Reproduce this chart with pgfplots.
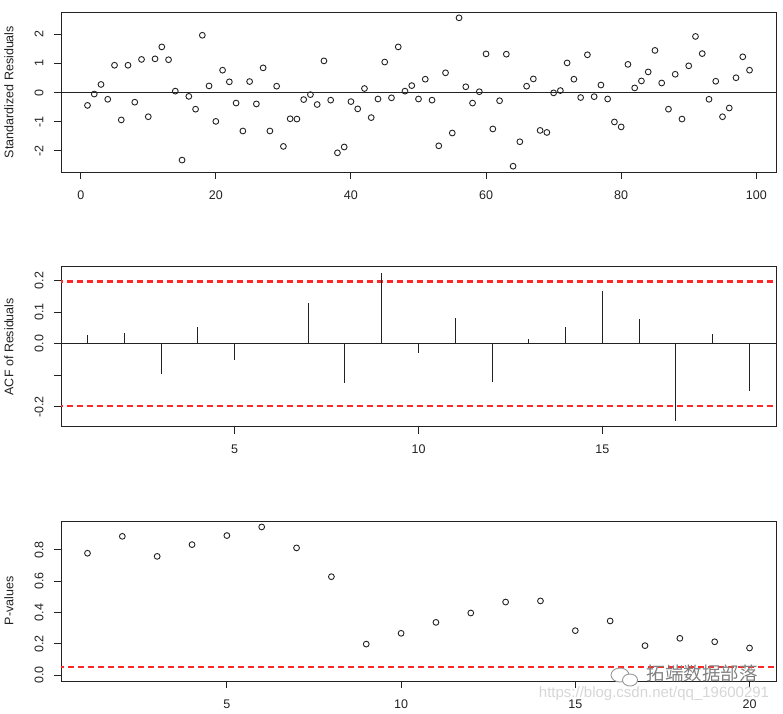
\documentclass[border=0pt]{standalone}
\usepackage{pgfplots}
\pgfplotsset{compat=1.18}
\usepackage{fontspec}
\setmainfont{Liberation Sans}
\newfontfamily\cjk{Noto Sans CJK SC}
\definecolor{rblack}{HTML}{222222}
\definecolor{rred}{RGB}{255,40,40}
\pgfplotsset{
  rstyle/.style={
    scale only axis, width=715pt, height=160pt,
    axis line style={line width=1pt, rblack},
    tick align=outside, major tick length=7pt,
    tick style={line width=1pt, rblack},
    xtick pos=bottom, ytick pos=left,
    ticklabel style={font=\fontsize{12.5}{15}\selectfont, text=rblack},
    yticklabel style={rotate=90, anchor=south},
    yticklabel shift=7pt, xticklabel shift=8pt,
    label style={font=\fontsize{12.5}{15}\selectfont, text=rblack},
    ylabel style={at={(axis description cs:-0.073,0.5)}, anchor=center},
    clip=true,
  },
  rmark/.style={only marks, mark=o, mark size=2.9pt, mark options={line width=0.9pt, draw=rblack}},
  rdash/.style={draw=rred, solid, line width=2.2pt, dash pattern=on 6pt off 4pt},
}
\begin{document}
\begin{tikzpicture}
\useasboundingbox (0pt,0pt) rectangle (783pt,-713pt);
% ---------- Panel 1: standardized residuals
\begin{axis}[rstyle, at={(61pt,-172pt)}, anchor=south west,
  xmin=-2.92, xmax=102.92, ymin=-2.73, ymax=2.77,
  xtick={0,20,40,60,80,100}, xticklabels={0,20,40,60,80,100},
  ytick={-2,-1,0,1,2}, yticklabels={-2,-1,0,1,2},
  ylabel={Standardized Residuals}]
\addplot[draw=rblack, line width=1pt] coordinates {(-10,0) (110,0)};
\addplot[rmark] table {
x y
1 -0.44
2 -0.05
3 0.28
4 -0.23
5 0.94
6 -0.94
7 0.94
8 -0.33
9 1.14
10 -0.83
11 1.16
12 1.57
13 1.13
14 0.05
15 -2.32
16 -0.13
17 -0.57
18 1.97
19 0.23
20 -0.99
21 0.77
22 0.37
23 -0.36
24 -1.32
25 0.38
26 -0.39
27 0.85
28 -1.32
29 0.22
30 -1.85
31 -0.90
32 -0.91
33 -0.24
34 -0.07
35 -0.41
36 1.09
37 -0.26
38 -2.07
39 -1.87
40 -0.31
41 -0.56
42 0.14
43 -0.86
44 -0.22
45 1.05
46 -0.18
47 1.57
48 0.05
49 0.24
50 -0.22
51 0.46
52 -0.26
53 -1.83
54 0.68
55 -1.39
56 2.57
57 0.20
58 -0.36
59 0.03
60 1.33
61 -1.25
62 -0.28
63 1.32
64 -2.53
65 -1.69
66 0.22
67 0.47
68 -1.30
69 -1.37
70 -0.01
71 0.07
72 1.02
73 0.46
74 -0.17
75 1.30
76 -0.14
77 0.26
78 -0.22
79 -1.01
80 -1.18
81 0.97
82 0.16
83 0.40
84 0.71
85 1.45
86 0.33
87 -0.57
88 0.63
89 -0.91
90 0.92
91 1.93
92 1.34
93 -0.23
94 0.39
95 -0.83
96 -0.53
97 0.51
98 1.23
99 0.77
};
\end{axis}
% ---------- Panel 2: ACF of residuals
\begin{axis}[rstyle, at={(61pt,-426.7pt)}, anchor=south west,
  xmin=0.28, xmax=19.72, ymin=-0.263, ymax=0.244,
  xtick={5,10,15}, xticklabels={5,10,15},
  ytick={-0.2,-0.1,0,0.1,0.2}, yticklabels={-0.2,,0.0,0.1,0.2},
  ylabel={ACF of Residuals}]
\addplot[draw=rblack, line width=1pt] coordinates {(-5,0) (25,0)};
\addplot[rdash] coordinates {(-5,0.197) (25,0.197)};
\addplot[rdash] coordinates {(-5,-0.197) (25,-0.197)};
\addplot[ycomb, draw=rblack, line width=1pt] table {
x y
1 0.029
2 0.033
3 -0.095
4 0.052
5 -0.053
6 0.002
7 0.129
8 -0.126
9 0.225
10 -0.028
11 0.083
12 -0.121
13 0.014
14 0.052
15 0.167
16 0.079
17 -0.244
18 0.032
19 -0.151
};
\end{axis}
% ---------- Panel 3: p-values
\begin{axis}[rstyle, at={(61pt,-681pt)}, anchor=south west,
  xmin=0.24, xmax=20.76, ymin=-0.038, ymax=0.985,
  xtick={5,10,15,20}, xticklabels={5,10,15,20},
  ytick={0,0.2,0.4,0.6,0.8}, yticklabels={0.0,0.2,0.4,0.6,0.8},
  ylabel={P-values}]
\addplot[rdash, line width=1.8pt] coordinates {(-5,0.05) (25,0.05)};
\addplot[rmark] table {
x y
1 0.779
2 0.887
3 0.759
4 0.834
5 0.892
6 0.947
7 0.813
8 0.629
9 0.198
10 0.267
11 0.337
12 0.397
13 0.467
14 0.474
15 0.284
16 0.346
17 0.188
18 0.235
19 0.213
20 0.173
};
\end{axis}
% watermark
\node[text=black!16, font=\fontsize{15}{18}\selectfont, inner sep=0pt] at (654pt,-694pt) {https://blog.csdn.net/qq\_19600291};
\draw[black!40, line width=0.9pt, fill=white] (620pt,-675pt) ellipse (9pt and 7pt);
\draw[black!40, line width=0.9pt, fill=white] (630pt,-680pt) ellipse (7.5pt and 6pt);
\node[text=black!50, font=\cjk\fontsize{18.5}{20}\selectfont, inner sep=0pt] at (702pt,-673pt) {拓端数据部落};
\end{tikzpicture}
\end{document}
